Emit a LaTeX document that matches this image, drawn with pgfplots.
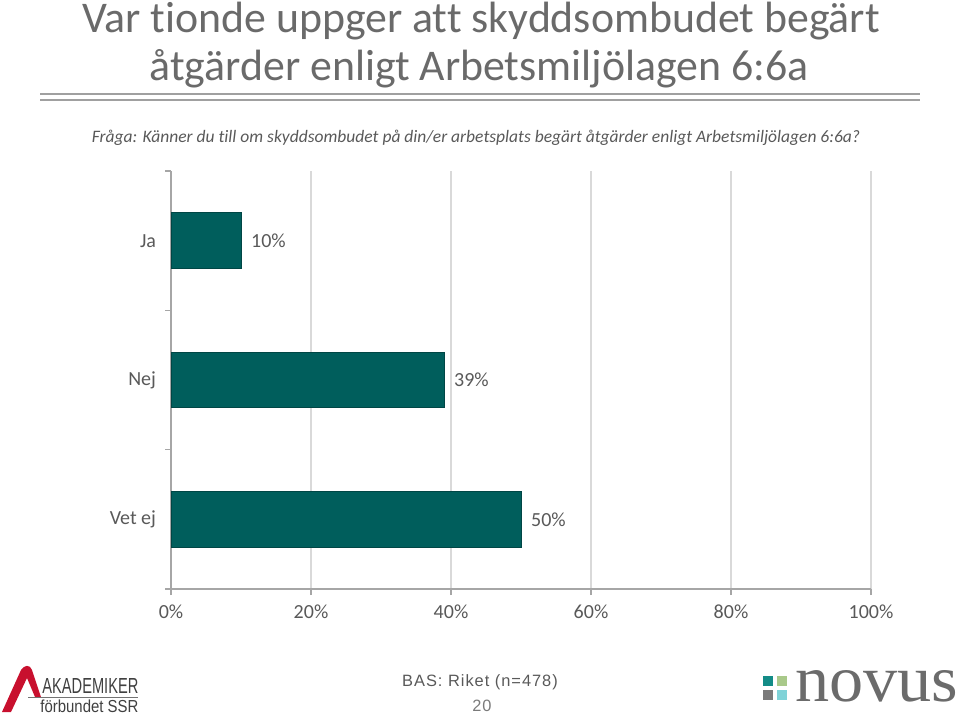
\documentclass[border=0pt]{standalone}
\usepackage{graphicx}
\usepackage{fontspec}
\setmainfont{Carlito}[RawFeature={-liga}]
\newfontfamily\basfont[LetterSpace=6]{Liberation Sans}
\newfontfamily\logofont{Liberation Sans}
\newfontfamily\novusfont{Liberation Serif}
\usepackage{pgfplots}
\pgfplotsset{compat=1.18}
\definecolor{txt}{HTML}{595959}
\definecolor{barc}{HTML}{005E5C}
\definecolor{gridc}{HTML}{D9D9D9}
\definecolor{axl}{HTML}{A6A6A6}
\definecolor{rule}{HTML}{A0A0A0}
\definecolor{ssrred}{HTML}{C8102E}
\definecolor{nteal}{HTML}{138C87}
\definecolor{ngreen}{HTML}{A9C98A}
\definecolor{ngray}{HTML}{7A7A7A}
\definecolor{ncyan}{HTML}{7FD3D8}
\begin{document}
\begin{tikzpicture}
% pixel frame: 1px = 0.5bp, y downward
\begin{scope}[x=0.5bp,y=-0.5bp]
\useasboundingbox (0,0) rectangle (960,716);
\coordinate (O) at (171,589);
% title
\node[anchor=base,text=txt!90,font=\fontsize{21.9bp}{27bp}\selectfont] at (481,32) {Var tionde uppger att skyddsombudet begärt};
\node[anchor=base,text=txt!90,font=\fontsize{21.9bp}{27bp}\selectfont] at (479,81) {åtgärder enligt Arbetsmiljölagen 6:6a};
\draw[rule,line width=1bp] (40,94) -- (920,94);
\draw[rule,line width=1bp] (40,100) -- (920,100);
% question
\node[anchor=base,text=txt,font=\fontsize{8.75bp}{10bp}\selectfont\itshape] at (476,142) {Fråga: Känner du till om skyddsombudet på din/er arbetsplats begärt åtgärder enligt Arbetsmiljölagen 6:6a?};
% footer
\node[anchor=base,text=txt,inner sep=0] at (480,686) {\basfont\fontsize{8.2bp}{10bp}\selectfont BAS: Riket (n=478)};
\node[anchor=base,text=txt!80,inner sep=0] at (482,711) {\basfont\fontsize{8.2bp}{10bp}\selectfont 20};
% left logo
\fill[ssrred] (2,712) -- (21,670) .. controls (24,665) and (30,664) .. (32,670) -- (41,697) -- (35,697) -- (27,678) -- (11,712) -- cycle;
\node[anchor=south west,inner sep=0,text=black!75] at (42,694) {\resizebox{48bp}{7.5bp}{\logofont AKADEMIKER}};
\draw[black!55,line width=0.6bp] (28,697.5) -- (138,697.5);
\node[anchor=south west,inner sep=0,text=black!75] at (40,713) {\resizebox{49bp}{6.3bp}{\logofont förbundet SSR}};
% right logo
\fill[nteal] (763,676) rectangle (773,686);
\fill[ngreen] (777,676) rectangle (787,686);
\fill[ngray] (763,690) rectangle (773,700);
\fill[ncyan] (777,690) rectangle (787,700);
\node[anchor=south west,inner sep=0,text=black!58] at (795,703) {\resizebox{81.5bp}{15.5bp}{\novusfont novus}};
\end{scope}
\begin{axis}[
  at={(O)}, anchor=south west,
  scale only axis, width=350bp, height=209bp,
  xbar, bar width=0.4,
  xmin=0, xmax=100, ymin=-0.5, ymax=2.5,
  axis x line*=bottom, axis y line*=left,
  axis line style={axl, line width=0.75bp},
  xtick={0,20,40,60,80,100},
  xticklabels={0\%,20\%,40\%,60\%,80\%,100\%},
  xmajorgrids, grid style={gridc, line width=0.75bp},
  ytick={0,1,2}, yticklabels={Vet ej,Nej,Ja},
  major y tick style={draw=none},
  minor ytick={-0.5,0.5,1.5,2.5},
  minor y tick style={axl, line width=0.75bp},
  x tick style={axl, line width=0.75bp},
  tick align=outside,
  major tick length=3bp, minor tick length=3bp,
  ticklabel style={font=\fontsize{10bp}{12bp}\selectfont, text=txt},
  xticklabel style={yshift=-1.5bp},
  yticklabel style={xshift=-1bp},
  nodes near coords, point meta=explicit symbolic,
  nodes near coords style={font=\fontsize{10bp}{12bp}\selectfont, text=txt, anchor=west, xshift=1.5bp},
  clip=false,
]
\addplot[fill=barc, draw=barc!75!black, line width=0.5bp] coordinates {(50,0) [50\%] (39,1) [39\%] (10,2) [10\%]};
\end{axis}
\end{tikzpicture}
\end{document}
